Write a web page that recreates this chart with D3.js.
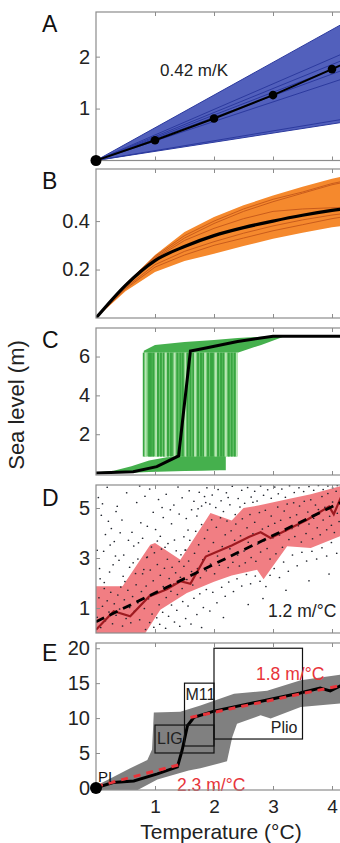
<!DOCTYPE html>
<html>
<head>
<meta charset="utf-8">
<script src="https://cdn.jsdelivr.net/npm/d3@7"></script>
<style>
  body { margin: 0; background: #fff; }
  text { font-family: "Liberation Sans", Arial, sans-serif; }
</style>
</head>
<body>
<div id="chart"></div>
<script>
// ---- shared ----
const tempTicks = [1, 2, 3, 4];

// ---- A: linear ensemble (values at T = 5 of each member line) ----
const tempsA = [0, 1, 2, 3, 4, 5];
const meanA = [0, 0.39, 0.81, 1.26, 1.76, 2.27];
const membersA = [3.15, 2.46, 2.31, 2.19, 2.08, 1.88, 0.95, 0.88];

// ---- B ----
const tempsB = [0, 0.5, 1, 1.5, 2, 2.5, 3, 3.5, 4, 4.5, 5];
const upperB = [0, 0.14, 0.26, 0.355, 0.417, 0.465, 0.506, 0.542, 0.575, 0.6, 0.625];
const lowerB = [0, 0.11, 0.19, 0.235, 0.265, 0.297, 0.327, 0.352, 0.375, 0.39, 0.405];
const meanB = [0, 0.135, 0.237, 0.295, 0.34, 0.373, 0.4, 0.424, 0.444, 0.46, 0.475];
const membersB = [
  [0, 0.138, 0.25, 0.33, 0.39, 0.44, 0.48, 0.515, 0.55, 0.575, 0.6],
  [0, 0.13, 0.245, 0.32, 0.37, 0.41, 0.44, 0.45, 0.455, 0.46, 0.465],
  [0, 0.12, 0.21, 0.26, 0.3, 0.33, 0.36, 0.385, 0.41, 0.43, 0.445],
  [0, 0.125, 0.22, 0.275, 0.315, 0.35, 0.38, 0.405, 0.425, 0.44, 0.455],
  [0, 0.14, 0.255, 0.34, 0.4, 0.45, 0.49, 0.52, 0.555, 0.58, 0.605]
];

// ---- C ----
const tempsCLow = [0, 0.3, 0.6, 0.9, 1.2, 1.5, 1.8, 2.1, 2.2];
const lowTopC = [0.03, 0.12, 0.35, 0.65, 0.82, 0.88, 0.9, 0.9, 0.88];
const lowBotC = [0, 0, 0.02, 0.05, 0.08, 0.1, 0.12, 0.14, 0.15];
const jumpTempsC = [0.81, 0.84, 0.9, 0.93, 0.97, 1.02, 1.05, 1.1, 1.15, 1.18, 1.22, 1.27,
  1.31, 1.33, 1.38, 1.43, 1.47, 1.52, 1.55, 1.6, 1.65, 1.68, 1.73, 1.78, 1.82, 1.85,
  1.9, 1.95, 1.98, 2.03, 2.07, 2.12, 2.16, 2.2, 2.25, 2.3, 2.35, 2.39];
const jumpLowC = 0.85;
const jumpHighC = 6.2;
const tempsCUp = [0.81, 1.0, 1.5, 2.0, 2.4, 2.8, 3.2];
const upTopC = [6.3, 6.6, 6.75, 6.85, 6.95, 7.02, 7.05];
const upBotC = [6.2, 6.2, 6.2, 6.2, 6.2, 6.6, 7.05];
const tempsCMean = [0, 0.63, 1.03, 1.4, 1.6, 1.8, 2.4, 3.0, 5];
const meanC = [0, 0.07, 0.33, 0.88, 6.28, 6.4, 6.77, 7.05, 7.05];

// ---- D ----
const tempsDUp = [0, 0.45, 0.92, 1.0, 1.43, 1.94, 2.3, 2.5, 2.75, 2.85, 3.24, 3.64, 4.14, 5];
const upperD = [1.87, 1.87, 3.53, 3.6, 2.93, 4.8, 4.5, 5.0, 5.1, 5.15, 5.35, 5.55, 5.87, 6.2];
const tempsDLow = [0, 0.81, 1.09, 1.54, 2.0, 2.3, 2.73, 2.84, 3.24, 3.64, 4.14, 5];
const lowerD = [0, -0.1, 0.93, 1.6, 2.05, 2.3, 2.53, 2.15, 3.47, 3.4, 3.87, 4.1];
const tempsDMed = [0, 0.3, 0.58, 0.9, 1.2, 1.43, 1.6, 1.86, 2.0, 2.3, 2.6, 2.79, 2.96, 3.3, 3.58, 3.95, 4.03, 4.2, 5];
const medianD = [0.13, 0.87, 0.67, 1.46, 1.75, 2.07, 1.97, 3.06, 3.2, 3.5, 3.85, 4.03, 3.8, 4.2, 4.53, 5.06, 4.75, 5.7, 6.0];
const tempsDFit = [0, 5];
const fitD = [0.45, 6.2];
const scatterD = [
  // above the band, low temperatures
  [0.04, 5.42], [0.09, 4.71], [0.13, 3.27], [0.19, 5.83], [0.23, 2.44], [0.26, 4.18], [0.31, 3.66], [0.36, 5.07],
  [0.39, 2.91], [0.44, 4.52], [0.47, 3.12], [0.52, 5.61], [0.57, 2.63], [0.61, 4.03], [0.64, 3.48], [0.69, 5.22],
  [0.71, 2.96], [0.76, 4.41], [0.79, 3.79], [0.83, 5.47], [0.87, 4.27], [0.91, 5.76], [0.97, 4.83], [1.01, 4.14],
  [1.06, 5.34], [1.09, 3.87], [1.14, 4.62], [1.19, 5.55], [1.22, 3.58], [1.28, 4.37], [1.32, 5.12], [1.36, 3.29],
  [1.41, 4.76], [1.46, 5.41], [1.49, 3.85], [1.53, 4.58], [1.58, 5.69], [0.07, 2.17], [0.16, 3.94], [0.29, 2.73],
  [0.34, 4.86], [0.49, 2.06], [0.55, 3.71], [0.67, 2.38], [0.74, 5.88], [0.81, 2.54], [0.94, 3.44], [1.04, 3.68],
  [1.12, 5.02], [1.26, 4.93], [1.39, 5.84], [1.51, 3.32], [0.02, 3.31], [0.11, 5.17], [0.21, 4.47], [0.41, 4.01],
  [0.06, 2.58], [0.14, 2.02], [0.24, 3.52], [0.33, 3.08], [0.46, 2.27], [0.63, 2.81], [0.72, 3.61], [0.86, 3.02],
  [1.17, 3.43], [1.33, 3.72], [1.44, 3.13], [1.56, 4.12],
  // above the band, high temperatures
  [1.62, 4.93], [1.66, 5.27], [1.71, 4.68], [1.75, 5.63], [1.79, 5.08], [1.84, 5.46], [1.88, 5.81], [1.93, 5.16],
  [1.97, 5.52], [2.03, 5.02], [2.07, 5.74], [2.12, 5.29], [2.16, 4.86], [2.21, 5.61], [2.27, 5.13], [2.31, 5.87],
  [2.36, 4.74], [2.41, 5.38], [2.47, 5.71], [2.52, 5.19], [2.57, 5.82], [2.63, 5.44], [2.69, 5.67], [2.73, 5.28],
  [2.79, 5.88], [2.84, 5.51], [2.91, 5.73], [2.97, 5.39], [3.03, 5.84], [3.09, 5.57], [3.15, 5.76], [3.21, 5.43],
  [3.28, 5.89], [3.36, 5.62], [3.44, 5.81], [3.52, 5.66], [3.61, 5.86], [3.69, 5.71], [3.77, 5.9], [3.85, 5.74],
  [3.93, 5.88], [4.01, 5.81], [4.09, 5.9], [1.73, 4.97], [1.86, 5.22], [2.24, 5.42], [2.44, 5.04], [2.66, 5.23],
  // inside the band
  [0.02, 0.63], [0.05, 1.41], [0.08, 0.22], [0.11, 1.07], [0.14, 1.78], [0.16, 0.49], [0.19, 1.29], [0.22, 0.84],
  [0.25, 1.63], [0.28, 0.37], [0.31, 1.17], [0.34, 0.71], [0.37, 1.52], [0.4, 0.96], [0.42, 1.84], [0.45, 0.28],
  [0.48, 1.33], [0.51, 0.58], [0.54, 1.71], [0.57, 1.02], [0.59, 0.41], [0.62, 1.46], [0.65, 0.87], [0.68, 1.93],
  [0.71, 1.21], [0.74, 0.53], [0.77, 1.66], [0.79, 2.37], [0.82, 0.98], [0.85, 1.88], [0.87, 3.04], [0.89, 1.37],
  [0.92, 2.52], [0.95, 0.76], [0.97, 2.09], [0.99, 3.21], [1.02, 1.58], [1.04, 2.74], [1.07, 1.13], [1.09, 2.31],
  [1.11, 3.36], [1.14, 1.86], [1.16, 2.59], [1.19, 1.42], [1.21, 2.95], [1.24, 2.18], [1.27, 1.67], [1.29, 2.63],
  [1.32, 1.96], [1.35, 2.41], [1.38, 1.54], [1.41, 2.86], [1.43, 2.23], [1.46, 1.78], [1.49, 2.67], [1.52, 3.32],
  [1.54, 2.14], [1.57, 2.88], [1.59, 3.71], [1.62, 2.46], [1.64, 1.92], [1.67, 3.19], [1.69, 4.07], [1.72, 2.58],
  [1.74, 3.53], [1.77, 2.21], [1.79, 4.34], [1.81, 2.93], [1.84, 3.78], [1.87, 2.49], [1.89, 4.12], [1.91, 3.27],
  [1.94, 2.76], [1.96, 4.53], [1.99, 3.62], [2.01, 2.37], [2.04, 4.23], [2.06, 3.08], [2.09, 2.71], [2.11, 4.61],
  [2.14, 3.46], [2.17, 2.94], [2.19, 3.93], [2.22, 4.48], [2.24, 2.62], [2.27, 3.37], [2.29, 4.09], [2.32, 2.83],
  [2.35, 3.71], [2.37, 4.36], [2.4, 3.12], [2.43, 2.68], [2.45, 3.89], [2.48, 4.57], [2.51, 3.28], [2.53, 2.81],
  [2.56, 4.21], [2.58, 3.63], [2.61, 4.74], [2.63, 3.02], [2.66, 3.97], [2.69, 4.43], [2.71, 2.87], [2.74, 3.56],
  [2.77, 4.82], [2.79, 3.24], [2.82, 4.16], [2.85, 3.69], [2.87, 4.91], [2.9, 3.38], [2.92, 4.27], [2.95, 2.96],
  [2.97, 4.68], [3.0, 3.81], [3.03, 4.39], [3.05, 3.17], [3.08, 5.04], [3.11, 3.92], [3.13, 4.51], [3.16, 3.43],
  [3.19, 4.88], [3.21, 4.07], [3.24, 5.16], [3.27, 3.74], [3.29, 4.62], [3.32, 4.18], [3.35, 5.21], [3.37, 3.86],
  [3.4, 4.73], [3.43, 4.29], [3.45, 5.08], [3.48, 3.64], [3.51, 4.47], [3.53, 5.27], [3.56, 3.98], [3.59, 4.84],
  [3.61, 4.36], [3.64, 5.33], [3.67, 3.77], [3.69, 4.59], [3.72, 5.12], [3.75, 4.21], [3.77, 4.94], [3.8, 3.93],
  [3.83, 5.46], [3.85, 4.52], [3.88, 5.03], [3.91, 4.13], [3.93, 5.58], [3.96, 4.67], [3.99, 4.31], [4.01, 5.24],
  [4.04, 4.02], [4.07, 5.67], [4.09, 4.79], [4.12, 4.46], [4.15, 5.39], [4.18, 4.12],
  // below the band
  [0.84, 0.14], [0.91, 0.42], [0.98, 0.23], [1.03, 0.61], [1.08, 0.35], [1.13, 0.83], [1.18, 0.19], [1.23, 0.67],
  [1.28, 1.12], [1.33, 0.44], [1.37, 0.91], [1.42, 0.27], [1.47, 1.26], [1.52, 0.58], [1.56, 1.08], [1.61, 0.36],
  [1.66, 1.39], [1.71, 0.74], [1.76, 1.57], [1.82, 1.02], [1.87, 1.74], [1.93, 0.88], [1.98, 1.63], [2.05, 1.21],
  [2.13, 1.83], [2.19, 1.47], [2.25, 2.04], [2.33, 1.66], [2.39, 2.17], [2.47, 1.88], [2.55, 2.34], [2.62, 1.97],
  [2.7, 2.28], [2.78, 2.07], [2.88, 1.86], [2.95, 2.31], [3.02, 2.58], [3.11, 2.22], [3.18, 2.84], [3.26, 2.47],
  [3.33, 3.12], [3.41, 2.69], [3.49, 3.23], [3.57, 2.88], [3.66, 3.27], [3.74, 2.96], [3.83, 3.41], [3.91, 3.08],
  [3.99, 3.62], [4.08, 3.19], [4.16, 3.55], [2.58, 1.14], [2.83, 1.38], [3.22, 1.71], [3.61, 2.09], [3.95, 2.36],
  [2.16, 0.62], [1.79, 0.22]
];

// ---- E ----
const tempsEUp = [0, 0.3, 0.58, 0.87, 0.95, 0.98, 1.43, 1.77, 2.34, 2.9, 3.47, 4.14, 5];
const upperE = [0.3, 1.6, 2.8, 4.0, 5.5, 10.8, 10.9, 11.8, 13.5, 13.9, 15.4, 16.2, 16.8];
const tempsELow = [0, 0.64, 1.04, 1.57, 1.77, 2.22, 2.31, 2.39, 2.79, 2.96, 3.47, 4.14, 5];
const lowerE = [-0.3, -0.6, 1.2, 2.5, 2.8, 3.8, 7.3, 9.2, 10.4, 9.95, 11.6, 12.1, 12.5];
const tempsEMed = [0, 0.29, 0.64, 1.04, 1.38, 1.46, 1.55, 1.66, 2.0, 2.9, 3.46, 3.8, 3.97, 4.14, 5];
const medianE = [0, 0.78, 1.0, 2.0, 3.0, 5.4, 8.9, 10.1, 11.0, 12.6, 13.6, 14.3, 13.9, 14.6, 15.5];
const tempsFitLow = [0, 1.4];
const fitLow = [0.2, 3.3];
const tempsFitHigh = [1.6, 5];
const fitHigh = [10.1, 16.2];
const boxNames = ['LIG', 'M11', 'Plio'];
const boxTemps = [[1, 2], [1.5, 2], [2, 3.5]];
const boxLevels = [[5, 9], [6, 15], [7, 20]];

// ---- layout ----
const width = 340, height = 843;
const svg = d3.select('#chart').append('svg')
  .attr('width', width).attr('height', height);

const x = d3.scaleLinear().domain([0, 5]).range([96, 391]);

function makePanel(id, top, bottom, domain) {
  const y = d3.scaleLinear().domain(domain).range([bottom, top]);
  svg.append('clipPath').attr('id', 'clip-' + id)
    .append('rect')
    .attr('x', x(0)).attr('y', top)
    .attr('width', x(5) - x(0)).attr('height', bottom - top);
  const plot = svg.append('g').attr('clip-path', `url(#clip-${id})`);
  return {y, plot, top, bottom};
}

function pairs(ts, vs) {
  return ts.map((t, i) => [t, vs[i]]);
}

function lineGen(y) {
  return d3.line().x(d => x(d[0])).y(d => y(d[1]));
}

function bandPath(y, ts, hi, los, lo) {
  const pts = pairs(ts, hi).concat(pairs(los, lo).reverse());
  return lineGen(y)(pts) + 'Z';
}

function drawFrame(p, ticks, fmt, letter, letterY, showX) {
  svg.append('rect')
    .attr('x', x(0)).attr('y', p.top)
    .attr('width', x(5) - x(0)).attr('height', p.bottom - p.top)
    .attr('fill', 'none').attr('stroke', '#8c8c8c').attr('stroke-width', 1.2);

  const yAxis = svg.append('g')
    .attr('transform', `translate(${x(0)},0)`)
    .call(d3.axisLeft(p.y).tickValues(ticks).tickSize(-4).tickPadding(6).tickFormat(fmt));
  const top = svg.append('g')
    .attr('transform', `translate(0,${p.top})`)
    .call(d3.axisTop(x).tickValues(tempTicks).tickSize(-4).tickFormat(''));
  const bottom = svg.append('g')
    .attr('transform', `translate(0,${p.bottom})`)
    .call(d3.axisBottom(x).tickValues(tempTicks).tickSize(-4).tickPadding(10)
      .tickFormat(showX ? d3.format('d') : ''));

  [yAxis, top, bottom].forEach(a => {
    a.select('.domain').remove();
    a.selectAll('.tick line').attr('stroke', '#8c8c8c');
    a.selectAll('.tick text').attr('font-size', 20).attr('fill', '#222')
      .style('font-family', '"Liberation Sans", Arial, sans-serif');
  });
  bottom.selectAll('.tick text').attr('font-size', 19);

  svg.append('text')
    .attr('x', 42).attr('y', letterY)
    .attr('font-size', 23).attr('fill', '#111')
    .text(letter);
}

// ---- Panel A ----
const pA = makePanel('a', 12, 160.5, [0, 2.86]);
const lA = lineGen(pA.y);
pA.plot.append('path')
  .attr('d', bandPath(pA.y, [0, 5], [0, d3.max(membersA)], [0, 5], [0, d3.min(membersA)]))
  .attr('fill', '#5260bc');
pA.plot.selectAll('.memA').data(membersA).enter().append('path')
  .attr('d', d => lA([[0, 0], [5, d]]))
  .attr('fill', 'none').attr('stroke', '#2c3a9e').attr('stroke-width', 1);
pA.plot.append('path')
  .attr('d', lA(pairs(tempsA, meanA)))
  .attr('fill', 'none').attr('stroke', '#000').attr('stroke-width', 2);
svg.append('g').selectAll('circle').data(pairs(tempsA, meanA).filter(d => d[0] > 0 && d[0] <= 4)).enter()
  .append('circle')
  .attr('cx', d => x(d[0])).attr('cy', d => pA.y(d[1]))
  .attr('r', 4.3)
  .attr('fill', '#000');
svg.append('text').attr('x', 160).attr('y', 76).attr('font-size', 17).attr('fill', '#222')
  .text('0.42 m/K');

// ---- Panel B ----
const pB = makePanel('b', 169, 318, [0, 0.615]);
const lB = lineGen(pB.y);
pB.plot.append('path')
  .attr('d', bandPath(pB.y, tempsB, upperB, tempsB, lowerB))
  .attr('fill', '#f5892d');
pB.plot.selectAll('.memB').data(membersB).enter().append('path')
  .attr('d', d => lB(pairs(tempsB, d)))
  .attr('fill', 'none').attr('stroke', '#c4571a').attr('stroke-width', 0.9);
pB.plot.append('path')
  .attr('d', d3.line().curve(d3.curveMonotoneX).x(d => x(d[0])).y(d => pB.y(d[1]))(pairs(tempsB, meanB)))
  .attr('fill', 'none').attr('stroke', '#000').attr('stroke-width', 3.2);

// ---- Panel C ----
const pC = makePanel('c', 328, 475, [-0.1, 7.47]);
pC.plot.append('path')
  .attr('d', bandPath(pC.y, tempsCLow, lowTopC, tempsCLow, lowBotC))
  .attr('fill', '#45b04d');
pC.plot.append('path')
  .attr('d', bandPath(pC.y, tempsCUp, upTopC, tempsCUp, upBotC))
  .attr('fill', '#45b04d');
// pale fill behind the jumps, then the individual jumps
const jumpSpan = d3.extent(jumpTempsC);
pC.plot.append('path')
  .attr('d', bandPath(pC.y, jumpSpan, [jumpHighC, jumpHighC], jumpSpan, [jumpLowC, jumpLowC]))
  .attr('fill', '#74c976');
pC.plot.selectAll('.jump').data(jumpTempsC).enter().append('line')
  .attr('x1', d => x(d)).attr('x2', d => x(d))
  .attr('y1', pC.y(jumpLowC)).attr('y2', pC.y(jumpHighC))
  .attr('stroke', (d, i) => i % 4 === 1 ? '#b8e6b4' : '#38a641')
  .attr('stroke-width', 2);
pC.plot.append('path')
  .attr('d', lineGen(pC.y)(pairs(tempsCMean, meanC)))
  .attr('fill', 'none').attr('stroke', '#000').attr('stroke-width', 3);

// ---- Panel D ----
const pD = makePanel('d', 485, 633, [0, 5.92]);
pD.plot.append('path')
  .attr('d', bandPath(pD.y, tempsDUp, upperD, tempsDLow, lowerD))
  .attr('fill', '#f17e83');
pD.plot.selectAll('.dot').data(scatterD).enter().append('circle')
  .attr('cx', d => x(d[0])).attr('cy', d => pD.y(d[1]))
  .attr('r', 0.85).attr('fill', '#22262f');
pD.plot.append('path')
  .attr('d', lineGen(pD.y)(pairs(tempsDMed, medianD)))
  .attr('fill', 'none').attr('stroke', '#9e1a20').attr('stroke-width', 2.2);
pD.plot.append('path')
  .attr('d', lineGen(pD.y)(pairs(tempsDFit, fitD)))
  .attr('fill', 'none').attr('stroke', '#000').attr('stroke-width', 2.8)
  .attr('stroke-dasharray', '9,6');
svg.append('text').attr('x', 268).attr('y', 617).attr('font-size', 17.5).attr('fill', '#222')
  .text('1.2 m/°C');

// ---- Panel E ----
const pE = makePanel('e', 643, 790, [-0.3, 20.75]);
const lE = lineGen(pE.y);
pE.plot.append('path')
  .attr('d', bandPath(pE.y, tempsEUp, upperE, tempsELow, lowerE))
  .attr('fill', '#808080');
pE.plot.append('path')
  .attr('d', lE(pairs(tempsEMed, medianE)))
  .attr('fill', 'none').attr('stroke', '#000').attr('stroke-width', 3);
[[tempsFitLow, fitLow], [tempsFitHigh, fitHigh]].forEach(f => {
  pE.plot.append('path')
    .attr('d', lE(pairs(f[0], f[1])))
    .attr('fill', 'none').attr('stroke', '#e8343a').attr('stroke-width', 3)
    .attr('stroke-dasharray', '7,6');
});
pE.plot.selectAll('.box').data(boxNames).enter().append('rect')
  .attr('x', (d, i) => x(boxTemps[i][0]))
  .attr('y', (d, i) => pE.y(boxLevels[i][1]))
  .attr('width', (d, i) => x(boxTemps[i][1]) - x(boxTemps[i][0]))
  .attr('height', (d, i) => pE.y(boxLevels[i][0]) - pE.y(boxLevels[i][1]))
  .attr('fill', 'none').attr('stroke', '#111').attr('stroke-width', 1.2);
const boxLabel = [
  {x: x(1) + 2, y: pE.y(6.3), anchor: 'start'},
  {x: x(1.5) + 1, y: pE.y(12.6), anchor: 'start'},
  {x: x(3.5) - 5, y: pE.y(7.9), anchor: 'end'}
];
svg.selectAll('.boxlab').data(boxNames).enter().append('text')
  .attr('x', (d, i) => boxLabel[i].x).attr('y', (d, i) => boxLabel[i].y)
  .attr('text-anchor', (d, i) => boxLabel[i].anchor)
  .attr('font-size', 16).attr('fill', '#222')
  .text(d => d);
svg.append('text').attr('x', 98).attr('y', 782).attr('font-size', 15).attr('fill', '#111').text('PI');
svg.append('text').attr('x', 177).attr('y', 791).attr('font-size', 17.5).attr('fill', '#e8343a')
  .text('2.3 m/°C');
svg.append('text').attr('x', 256).attr('y', 680).attr('font-size', 17.5).attr('fill', '#e8343a')
  .text('1.8 m/°C');

// ---- frames and axes ----
const fmtNum = d3.format('');
drawFrame(pA, [1, 2], fmtNum, 'A', 32, false);
drawFrame(pB, [0.2, 0.4], d3.format('.1f'), 'B', 189, false);
drawFrame(pC, [2, 4, 6], fmtNum, 'C', 348, false);
drawFrame(pD, [1, 3, 5], fmtNum, 'D', 506, false);
drawFrame(pE, [0, 5, 10, 15, 20], fmtNum, 'E', 661, true);

// origin dots sit on top of the frames
[[pA, 5.5], [pE, 6]].forEach(([p, r]) => {
  svg.append('circle').attr('cx', x(0)).attr('cy', p.y(0)).attr('r', r).attr('fill', '#000');
});

// axis titles
svg.append('text')
  .attr('transform', 'translate(24,405) rotate(-90)')
  .attr('text-anchor', 'middle')
  .attr('font-size', 22).attr('fill', '#222')
  .text('Sea level (m)');
svg.append('text')
  .attr('x', 221).attr('y', 838.5)
  .attr('text-anchor', 'middle')
  .attr('font-size', 21).attr('fill', '#222')
  .text('Temperature (°C)');
</script>
</body>
</html>
